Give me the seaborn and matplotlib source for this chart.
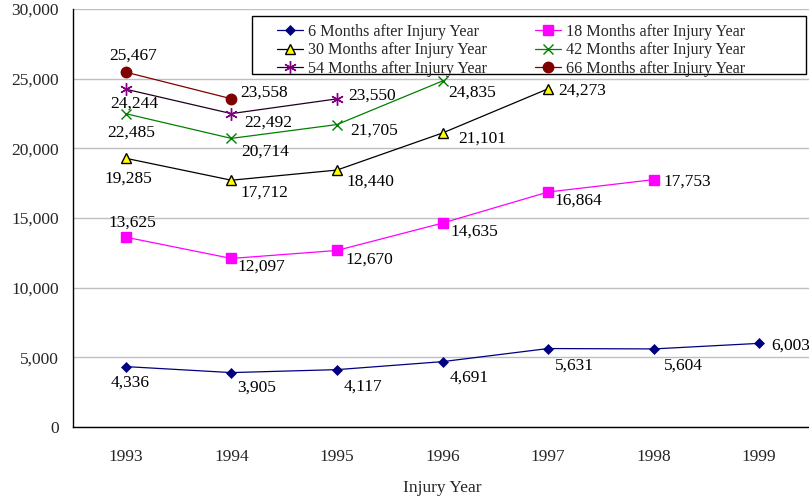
import matplotlib
matplotlib.use("Agg")
import matplotlib.pyplot as plt
from matplotlib.patches import Rectangle
import seaborn as sns
import pandas as pd

# values (claims cost by injury year)
years = [1993, 1994, 1995, 1996, 1997, 1998, 1999]
m6 = [4336, 3905, 4117, 4691, 5631, 5604, 6003]
m18 = [13625, 12097, 12670, 14635, 16864, 17753]
m30 = [19285, 17712, 18440, 21101, 24273]
m42 = [22485, 20714, 21705, 24835]
m54 = [24244, 22492, 23550]
m66 = [25467, 23558]

labels = ["6 Months after Injury Year", "18 Months after Injury Year",
          "30 Months after Injury Year", "42 Months after Injury Year",
          "54 Months after Injury Year", "66 Months after Injury Year"]

sns.set_theme(style="white")
plt.rcParams['font.family'] = ['Liberation Serif', 'DejaVu Serif']
plt.rcParams['font.size'] = 12.5

# line color, marker, face, edge, marker size
styles = [
    ("#000080", "D", "#000080", "#000080", 5.5),
    ("#FF00FF", "s", "#FF00FF", "#FF00FF", 6.5),
    ("#000000", "^", "#FFFF00", "#000000", 7),
    ("#008000", "x", "#008000", "#008000", 7),
    ("#200020", (6, 2, 0), "#800080", "#800080", 9),
    ("#800000", "o", "#800000", "#800000", 7.5),
]

# data label offsets in pixels (dx, down, alignment)
offsets = [
    [(4, 16, "center"), (6, 15, "left"), (7, 17, "left"), (7, 16, "left"),
     (7, 17, "left"), (10, 17, "left"), (12, 2, "left")],
    [(7, -15, "center"), (6, 8, "left"), (9, 9, "left"), (8, 9, "left"),
     (6, 9, "left"), (10, 2, "left")],
    [(3, 20, "center"), (9, 12, "left"), (10, 12, "left"), (16, 6, "left"),
     (10, 2, "left")],
    [(5, 19, "center"), (10, 13, "left"), (13, 6, "left"), (6, 12, "left")],
    [(9, 14, "center"), (13, 9, "left"), (11, -3, "left")],
    [(7, -17, "center"), (9, -6, "left")],
]

series = [m6, m18, m30, m42, m54, m66]

fig = plt.figure(figsize=(8.09, 5.0), dpi=100)
ax = fig.add_axes([73 / 809, 73 / 500, 739 / 809, 418 / 500])

for vals, lab, st, offs in zip(series, labels, styles, offsets):
    df = pd.DataFrame({"year": years[:len(vals)], "value": vals})
    color, mk, fc, ec, ms = st
    sns.lineplot(data=df, x="year", y="value", ax=ax, color=color, lw=0.9,
                 marker=mk, markersize=ms, markerfacecolor=fc,
                 markeredgecolor=ec, markeredgewidth=1.0 if mk != "D" else 0.5,
                 label=lab, legend=False)
    for x, v, (dx, dy, ha) in zip(df["year"], vals, offs):
        ax.annotate(f"{v:,}", (x, v), xytext=(dx, -dy), textcoords="offset pixels",
                    ha=ha, va="center", fontsize=12.5, color="black")

ax.set_xlim(1992.5, 1999.5)
ax.set_ylim(0, 30000)
ax.set_yticks(range(0, 30001, 5000))
ax.set_yticklabels([f"{t:,}" for t in range(0, 30001, 5000)])
ax.set_xticks([y - 0.5 for y in years] + [1999.5])
ax.set_xticklabels([])
ax.set_xticks(years, minor=True)
ax.set_xticklabels([str(y) for y in years], minor=True)
ax.tick_params(axis="x", which="major", direction="out", length=5, width=1, color="black")
ax.tick_params(axis="x", which="minor", length=0, pad=16, labelsize=12.5)
ax.tick_params(axis="y", direction="out", length=5, width=1, color="black", pad=5, labelsize=12.5)
ax.yaxis.grid(True, color="#c0c0c0", lw=1)
ax.set_axisbelow(True)
for s in ["top", "right"]:
    ax.spines[s].set_visible(False)
for s in ["left", "bottom"]:
    ax.spines[s].set_color("black")
    ax.spines[s].set_linewidth(1)
ax.set_xlabel("Injury Year", fontsize=12.5, labelpad=11)
ax.set_ylabel("")

# legend box drawn as in the source chart (wider than its contents)
box = Rectangle((252 / 809, 1 - 74 / 500), 554 / 809, 58 / 500, transform=fig.transFigure,
                facecolor="white", edgecolor="black", lw=1, zorder=4)
fig.add_artist(box)

h, l = ax.get_legend_handles_labels()
order = [0, 2, 4, 1, 3, 5]
leg = fig.legend([h[i] for i in order], [l[i] for i in order], ncol=2,
                 loc="upper left", bbox_to_anchor=(277 / 809, 1 - 24 / 500),
                 frameon=False, fontsize=11.6,
                 handlelength=1.6, handletextpad=0.3, labelspacing=0.14,
                 borderpad=0, borderaxespad=0, columnspacing=3.0)
leg.set_zorder(5)

fig.savefig("out.png", dpi=100)
